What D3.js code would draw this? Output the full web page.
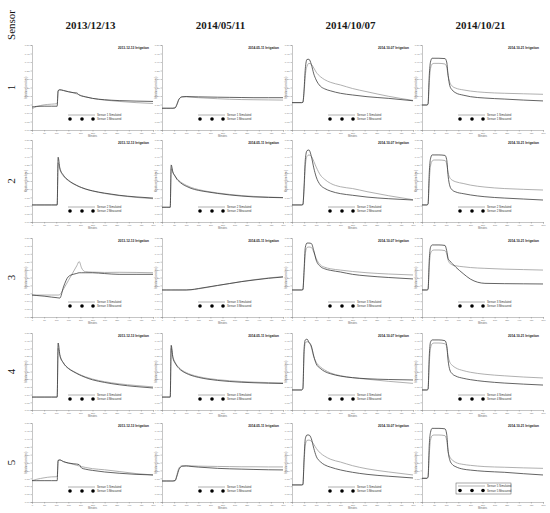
<!DOCTYPE html>
<html lang="en">
<head>
<meta charset="UTF-8">
<title>Simulated vs measured sensor response</title>
<script src="https://d3js.org/d3.v7.min.js"></script>
<style>
  body { margin: 0; background: #fff; }
  svg { display: block; }
</style>
</head>
<body>
<script>
// columns (irrigation dates) and rows (sensors)
var dates = ["2013/12/13", "2014/05/11", "2014/10/07", "2014/10/21"];
var sensors = [1, 2, 3, 4, 5];
var xTicks = [0, 50, 100, 150, 200, 250, 300, 350, 400, 450, 500];
var yTicks = [0, 5, 10, 15, 20, 25, 30, 35, 40, 45, 50];

// 2013/12/13
var minutes_1213 = [0, 20, 50, 80, 104, 108, 115, 130, 150, 170, 185, 195, 205, 220, 250, 300, 360, 430, 500];
var sim_1213 = [
  [12.5, 13.8, 14.8, 15.2, 15.5, 23.3, 23.8, 23.3, 22.6, 21.9, 21.2, 20.7, 20.2, 19.6, 18.6, 17.6, 16.8, 16.1, 15.6],
  [10.4, 10.4, 10.4, 10.4, 10.4, 36.0, 32.0, 28.0, 25.2, 23.3, 22.2, 21.5, 20.9, 20.1, 18.9, 17.4, 16.1, 15.0, 14.2],
  [13.9, 13.9, 13.9, 13.9, 13.9, 13.9, 14.2, 17.7, 23.0, 28.4, 32.4, 35.1, 31.0, 28.7, 28.4, 28.2, 28.3, 28.2, 28.0],
  [8.4, 8.4, 8.4, 8.4, 8.4, 40.0, 35.0, 30.5, 27.2, 25.2, 24.0, 23.2, 22.5, 21.6, 20.1, 18.4, 17.0, 15.9, 15.0],
  [13.5, 14.4, 15.3, 15.9, 16.0, 26.3, 26.6, 25.5, 24.6, 23.9, 23.2, 22.8, 22.4, 21.9, 21.1, 20.4, 19.3, 18.0, 17.1]
];
var meas_1213 = [
  [13.5, 13.9, 14.0, 14.0, 14.0, 23.0, 23.6, 23.2, 22.5, 22.0, 21.8, 20.6, 20.0, 19.5, 18.6, 17.8, 17.3, 17.0, 16.8],
  [10.4, 10.4, 10.4, 10.4, 10.4, 39.5, 33.0, 28.5, 25.5, 23.5, 22.3, 21.6, 21.0, 20.2, 19.0, 17.6, 16.3, 15.3, 14.6],
  [13.9, 13.6, 13.2, 12.6, 12.2, 12.1, 12.0, 19.0, 25.5, 27.0, 27.6, 28.0, 28.0, 28.0, 28.0, 27.5, 27.0, 27.0, 27.0],
  [8.4, 8.4, 8.4, 8.4, 8.4, 43.5, 36.0, 30.5, 27.0, 25.0, 23.7, 22.9, 22.2, 21.2, 19.6, 17.9, 16.4, 15.2, 14.3],
  [13.5, 13.5, 13.5, 13.5, 13.5, 26.3, 26.6, 25.6, 24.7, 24.2, 24.0, 23.6, 21.5, 20.8, 20.0, 19.0, 18.2, 17.5, 17.1]
];

// 2014/05/11
var minutes_0511 = [0, 20, 34, 38, 45, 54, 62, 70, 83, 100, 120, 150, 190, 230, 280, 330, 380, 440, 500];
var sim_0511 = [
  [12.8, 12.8, 12.8, 12.8, 12.8, 13.0, 15.5, 18.2, 19.5, 19.5, 19.3, 19.0, 18.7, 18.4, 18.1, 17.9, 17.8, 17.7, 17.6],
  [9.0, 9.0, 9.0, 32.5, 30.0, 28.0, 26.4, 25.2, 23.8, 22.4, 21.1, 19.8, 18.6, 17.7, 16.8, 16.1, 15.6, 15.2, 14.9],
  [17.1, 17.1, 17.1, 17.1, 17.1, 17.1, 17.1, 17.1, 17.1, 17.1, 17.2, 17.8, 18.8, 19.9, 21.2, 22.5, 23.6, 24.7, 25.6],
  [8.4, 8.4, 8.4, 40.0, 34.5, 31.0, 29.0, 27.5, 25.8, 24.3, 23.0, 21.7, 20.5, 19.7, 19.0, 18.5, 18.1, 17.8, 17.6],
  [13.3, 13.3, 13.3, 13.3, 13.3, 13.6, 17.5, 21.5, 23.0, 23.0, 22.9, 22.7, 22.6, 22.5, 22.4, 22.3, 22.3, 22.2, 22.2]
];
var meas_0511 = [
  [12.8, 12.8, 12.8, 12.8, 12.8, 13.0, 15.0, 18.0, 19.5, 19.7, 19.6, 19.5, 19.4, 19.3, 19.2, 19.1, 19.0, 19.0, 19.0],
  [9.0, 9.0, 9.0, 34.8, 30.5, 28.0, 26.0, 24.8, 23.2, 21.8, 20.5, 19.3, 18.3, 17.4, 16.5, 15.8, 15.3, 15.0, 14.8],
  [17.1, 17.1, 17.1, 17.1, 17.1, 17.1, 17.1, 17.1, 17.1, 17.1, 17.3, 18.0, 19.0, 20.0, 21.2, 22.4, 23.4, 24.5, 25.3],
  [8.4, 8.4, 8.4, 42.0, 34.0, 30.5, 28.5, 27.0, 25.3, 23.8, 22.5, 21.2, 20.0, 19.2, 18.5, 18.0, 17.7, 17.4, 17.2],
  [13.3, 13.3, 13.3, 13.3, 13.3, 13.5, 16.5, 20.5, 22.6, 22.8, 22.5, 22.1, 21.7, 21.3, 21.0, 20.8, 20.6, 20.4, 20.3]
];

// 2014/10/07
var minutes_1007 = [0, 40, 45, 50, 55, 62, 70, 80, 90, 100, 117, 135, 160, 200, 250, 310, 400, 500];
var sim_1007 = [
  [16.1, 16.1, 16.3, 22.0, 32.0, 37.5, 39.2, 38.6, 36.5, 34.0, 31.4, 29.6, 28.0, 26.5, 24.4, 22.5, 19.8, 17.4],
  [10.4, 10.4, 10.6, 20.0, 34.0, 40.0, 40.9, 40.0, 37.0, 33.5, 28.7, 26.0, 23.5, 21.5, 20.4, 18.5, 16.0, 13.6],
  [17.1, 17.1, 17.3, 28.0, 40.0, 44.0, 44.3, 44.0, 41.0, 37.0, 33.0, 31.5, 30.5, 29.7, 28.8, 28.0, 27.2, 26.6],
  [13.0, 13.0, 14.0, 36.0, 43.5, 44.4, 44.0, 40.5, 34.5, 31.0, 28.0, 26.0, 24.0, 22.3, 21.0, 20.0, 18.6, 17.3],
  [10.8, 10.8, 11.0, 25.0, 36.0, 39.0, 39.2, 38.5, 36.5, 34.0, 31.0, 29.0, 27.0, 25.3, 23.0, 21.0, 19.0, 17.1]
];
var meas_1007 = [
  [16.1, 16.1, 16.3, 24.0, 36.0, 41.5, 41.6, 38.5, 33.0, 29.4, 25.8, 24.2, 23.0, 21.6, 20.6, 19.6, 18.6, 17.2],
  [10.4, 10.4, 10.6, 22.0, 38.0, 43.5, 43.9, 40.0, 33.0, 27.5, 22.6, 20.5, 18.8, 17.3, 16.3, 15.2, 14.2, 13.4],
  [17.1, 17.1, 17.3, 30.0, 44.0, 46.8, 46.8, 46.5, 42.0, 36.0, 32.0, 30.5, 29.5, 28.5, 27.0, 26.0, 25.0, 24.1],
  [13.0, 13.0, 14.0, 40.0, 45.5, 46.0, 44.0, 41.5, 35.0, 30.0, 27.0, 25.0, 23.5, 22.0, 21.0, 20.3, 19.8, 19.5],
  [10.8, 10.8, 11.0, 28.0, 40.0, 42.4, 42.4, 40.0, 34.0, 29.0, 25.5, 23.5, 22.0, 20.3, 18.8, 17.5, 16.3, 15.2]
];

// 2014/10/21
var minutes_1021 = [0, 20, 25, 30, 35, 42, 50, 70, 95, 102, 108, 115, 125, 140, 170, 200, 260, 340, 420, 500];
var sim_1021 = [
  [14.7, 14.7, 15.0, 28.0, 36.0, 38.8, 39.2, 39.2, 38.8, 37.0, 32.0, 28.0, 25.8, 24.6, 23.6, 22.9, 22.1, 21.6, 21.3, 21.0],
  [10.4, 10.4, 10.8, 25.0, 34.0, 37.2, 37.8, 37.8, 37.5, 35.5, 30.0, 27.0, 25.5, 24.5, 23.5, 22.5, 21.3, 20.4, 19.9, 19.5],
  [17.1, 17.1, 17.5, 32.0, 40.0, 42.0, 42.4, 42.4, 42.0, 40.0, 36.0, 34.0, 33.0, 32.4, 31.8, 31.3, 30.8, 30.3, 30.0, 29.7],
  [13.0, 13.0, 13.4, 30.0, 40.0, 43.0, 43.5, 43.5, 43.0, 41.0, 35.0, 31.0, 29.0, 27.3, 25.6, 24.5, 23.2, 22.2, 21.4, 20.8],
  [15.0, 15.0, 15.5, 30.0, 39.0, 42.0, 42.4, 42.4, 42.0, 39.0, 32.0, 28.5, 26.6, 25.0, 23.8, 23.2, 22.4, 22.0, 21.6, 21.3]
];
var meas_1021 = [
  [14.7, 14.7, 15.5, 32.0, 40.0, 42.2, 42.2, 42.2, 42.0, 40.0, 32.0, 26.0, 23.5, 21.8, 20.5, 19.6, 18.8, 18.2, 17.6, 17.1],
  [10.4, 10.4, 11.0, 30.0, 38.5, 40.9, 40.9, 40.9, 40.6, 38.0, 28.0, 22.0, 19.5, 18.3, 17.3, 16.5, 15.4, 14.6, 14.0, 13.4],
  [17.1, 17.1, 17.5, 36.0, 44.0, 45.6, 45.6, 45.6, 45.3, 42.0, 37.0, 35.5, 33.8, 31.5, 27.5, 24.0, 21.3, 21.1, 21.0, 20.9],
  [13.0, 13.0, 13.5, 35.0, 44.0, 45.5, 45.5, 45.5, 45.0, 42.0, 32.0, 26.0, 23.5, 22.0, 20.6, 19.7, 18.5, 17.5, 16.8, 16.2],
  [15.0, 15.0, 16.0, 36.0, 44.0, 46.6, 46.6, 46.6, 46.3, 43.0, 32.0, 26.5, 23.8, 22.3, 20.8, 20.2, 19.4, 18.8, 17.9, 17.1]
];

var minutesByCol = [minutes_1213, minutes_0511, minutes_1007, minutes_1021];
var simByCol = [sim_1213, sim_0511, sim_1007, sim_1021];
var measByCol = [meas_1213, meas_0511, meas_1007, meas_1021];

// page layout
var w = 550, h = 513;
var colLeft = [32, 162, 292, 422];
var panelW = 121;
var rowTop = [45, 140, 238, 333, 423];
var rowBottom = [130, 222, 317, 410, 502];

var svg = d3.select("body").append("svg")
    .attr("width", w)
    .attr("height", h)
    .style("font-family", "Liberation Sans, Arial, sans-serif");

// column headers
dates.forEach(function(d, c) {
    svg.append("text")
        .attr("x", colLeft[c] + panelW / 2 - 2)
        .attr("y", 29)
        .attr("text-anchor", "middle")
        .style("font-family", "Liberation Serif, serif")
        .style("font-size", "11px")
        .style("font-weight", "bold")
        .attr("fill", "#1a1a1a")
        .text(d);
});

// "Sensor" + row numbers, rotated
svg.append("text")
    .attr("transform", "translate(15,25) rotate(-90)")
    .attr("text-anchor", "middle")
    .style("font-family", "Liberation Serif, serif")
    .style("font-size", "11px")
    .attr("fill", "#111")
    .text("Sensor");

sensors.forEach(function(s, r) {
    svg.append("text")
        .attr("transform", "translate(15," + (rowTop[r] + rowBottom[r]) / 2 + ") rotate(-90)")
        .attr("text-anchor", "middle")
        .style("font-family", "Liberation Serif, serif")
        .style("font-size", "11px")
        .attr("fill", "#111")
        .text(s);
});

var line = d3.line()
    .x(function(d) { return d[0]; })
    .y(function(d) { return d[1]; })
    .curve(d3.curveMonotoneX);

sensors.forEach(function(s, r) {
    dates.forEach(function(date, c) {
        var left = colLeft[c], top = rowTop[r], bottom = rowBottom[r];
        var xScale = d3.scaleLinear().domain([0, 500]).range([left, left + panelW]);
        var yScale = d3.scaleLinear().domain([0, 50]).range([bottom, top]);
        var g = svg.append("g");

        // axes
        var xAxis = d3.axisBottom(xScale).tickValues(xTicks).tickSize(1.5).tickPadding(1);
        var yAxis = d3.axisLeft(yScale).tickValues(yTicks).tickSize(1.5).tickPadding(1)
            .tickFormat(function(v) { return (v / 100).toFixed(2); });
        var gx = g.append("g").attr("transform", "translate(0," + bottom + ")").call(xAxis);
        var gy = g.append("g").attr("transform", "translate(" + left + ",0)").call(yAxis);
        [gx, gy].forEach(function(a) {
            a.selectAll("path, line").attr("stroke", "#8a8a8a").attr("stroke-width", 0.5);
            a.selectAll("text").attr("fill", "#777").style("font-size", "2.4px");
        });

        g.append("text")
            .attr("x", left + panelW / 2)
            .attr("y", bottom + 6.5)
            .attr("text-anchor", "middle")
            .attr("fill", "#666")
            .style("font-size", "2.6px")
            .text("Minutes");

        g.append("text")
            .attr("transform", "translate(" + (left - 5) + "," + (top + bottom) / 2 + ") rotate(-90)")
            .attr("text-anchor", "middle")
            .attr("fill", "#666")
            .style("font-size", "2.6px")
            .text("Moisture (cm\u00b3/cm\u00b3)");

        g.append("text")
            .attr("x", left + panelW - 4)
            .attr("y", top + 4)
            .attr("text-anchor", "end")
            .attr("fill", "#222")
            .style("font-size", "3.2px")
            .style("font-weight", "bold")
            .text(date.replace(/\//g, "-") + " Irrigation");

        // series
        var mins = minutesByCol[c];
        var simPts = mins.map(function(m, i) { return [xScale(m), yScale(simByCol[c][r][i])]; });
        var measPts = mins.map(function(m, i) { return [xScale(m), yScale(measByCol[c][r][i])]; });

        g.append("path")
            .attr("d", line(simPts))
            .attr("fill", "none")
            .attr("stroke", "#9c9c9c")
            .attr("stroke-width", 0.8);
        g.append("path")
            .attr("d", line(measPts))
            .attr("fill", "none")
            .attr("stroke", "#303030")
            .attr("stroke-width", 0.75);

        // legend
        var ly = bottom - 15, ldots = bottom - 11;
        if (r === 4 && c === 3) {
            g.append("rect")
                .attr("x", left + 34).attr("y", bottom - 19)
                .attr("width", 55).attr("height", 11)
                .attr("fill", "none").attr("stroke", "#555").attr("stroke-width", 0.5);
            ly = bottom - 16; ldots = bottom - 11.5;
        }
        g.append("line")
            .attr("x1", left + 36).attr("x2", left + 63)
            .attr("y1", ly).attr("y2", ly)
            .attr("stroke", "#9c9c9c").attr("stroke-width", 0.8);
        g.selectAll(".dot")
            .data([38, 50, 61])
            .enter()
            .append("circle")
            .attr("cx", function(d) { return left + d; })
            .attr("cy", ldots)
            .attr("r", 1.8)
            .attr("fill", "#000");
        g.append("text")
            .attr("x", left + 65).attr("y", ly + 1)
            .attr("fill", "#333")
            .style("font-size", "2.8px")
            .text("Sensor " + s + " Simulated");
        g.append("text")
            .attr("x", left + 65).attr("y", ldots + 1)
            .attr("fill", "#333")
            .style("font-size", "2.8px")
            .text("Sensor " + s + " Measured");
    });
});
</script>
</body>
</html>
